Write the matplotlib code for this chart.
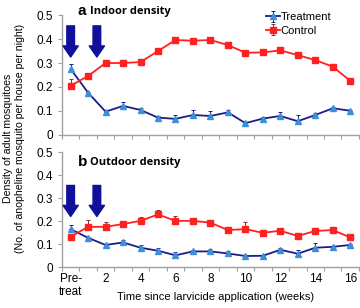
import matplotlib
matplotlib.use('Agg')
import matplotlib.pyplot as plt
import numpy as np
from matplotlib.ticker import FuncFormatter

plt.rcParams['font.family'] = ['Liberation Sans', 'DejaVu Sans']

# weeks: 0 = pre-treatment
weeks = np.arange(0, 17)
tick_weeks = [0, 2, 4, 6, 8, 10, 12, 14, 16]
tick_labels = ['Pre-\ntreat', '2', '4', '6', '8', '10', '12', '14', '16']

# indoor density
in_treat = [0.275, 0.176, 0.097, 0.121, 0.104, 0.072, 0.067, 0.083, 0.079,
            0.094, 0.049, 0.068, 0.079, 0.057, 0.083, 0.111, 0.101]
in_treat_err = [0.02, 0.005, 0.005, 0.015, 0.01, 0.005, 0.015, 0.02, 0.02,
                0.01, 0.005, 0.005, 0.015, 0.025, 0.01, 0.005, 0.005]
in_ctrl = [0.205, 0.246, 0.300, 0.300, 0.304, 0.350, 0.396, 0.393, 0.396,
           0.375, 0.343, 0.344, 0.353, 0.333, 0.312, 0.285, 0.226]
in_ctrl_err = [0.03, 0.005, 0.005, 0.005, 0.005, 0.01, 0.005, 0.005, 0.01,
               0.005, 0.005, 0.005, 0.01, 0.005, 0.005, 0.01, 0.005]

# outdoor density
out_treat = [0.165, 0.127, 0.096, 0.107, 0.084, 0.071, 0.051, 0.068, 0.068,
             0.059, 0.048, 0.049, 0.075, 0.058, 0.084, 0.088, 0.096]
out_treat_err = [0.02, 0.005, 0.005, 0.01, 0.01, 0.01, 0.015, 0.005, 0.01,
                 0.01, 0.005, 0.005, 0.01, 0.015, 0.02, 0.005, 0.005]
out_ctrl = [0.132, 0.175, 0.175, 0.187, 0.201, 0.229, 0.201, 0.201, 0.193,
            0.161, 0.165, 0.149, 0.158, 0.135, 0.157, 0.161, 0.129]
out_ctrl_err = [0.005, 0.03, 0.02, 0.01, 0.015, 0.02, 0.02, 0.005, 0.005,
                0.005, 0.03, 0.005, 0.005, 0.01, 0.015, 0.01, 0.015]

# larvicide application arrows (x, top, tip)
arrow_x = [0.0, 1.5]
in_arrow = (0.455, 0.325)
out_arrow = (0.355, 0.22)

navy = '#1c1c8a'
tri_face = '#3d8fd8'
red = '#ff2020'
navy_arrow = '#10109a'
grey = '#a0a0a0'

fig = plt.figure(figsize=(3.6, 3.08), dpi=100)
ax1 = fig.add_axes([0.172, 0.562, 0.825, 0.389])
ax2 = fig.add_axes([0.172, 0.133, 0.825, 0.373])


def draw(ax, treat, treat_err, ctrl, ctrl_err, arrow, letter, title, legend):
    z = np.zeros(len(weeks))
    ax.errorbar(weeks, treat, yerr=[z, treat_err], color=navy, lw=1.3,
                marker='^', ms=4.5, mfc=tri_face, mec=tri_face,
                elinewidth=0.7, capsize=1.5, capthick=0.7, label='Treatment')
    ax.errorbar(weeks, ctrl, yerr=[z, ctrl_err], color=red, lw=1.3,
                marker='s', ms=4.5, mfc=red, mec=red,
                elinewidth=0.7, ecolor='#803030', capsize=1.5, capthick=0.7,
                label='Control')
    for x in arrow_x:
        ax.annotate('', xy=(x, arrow[1]), xytext=(x, arrow[0]),
                    arrowprops=dict(width=5.5, headwidth=11, headlength=8,
                                    color=navy_arrow, shrink=0))
    ty = 0.515 if letter == 'a' else 0.455
    ax.text(0.4, ty, letter, fontsize=11, fontweight='bold', va='center', ha='left')
    ax.text(1.1, ty, title, fontsize=8, fontweight='bold', va='center', ha='left',
            family=['Open Sans', 'DejaVu Sans'])
    ax.set_xlim(-0.5, 16.5)
    ax.set_ylim(0, 0.5)
    ax.set_yticks([0, 0.1, 0.2, 0.3, 0.4, 0.5])
    ax.yaxis.set_major_formatter(FuncFormatter(lambda v, p: '0' if v == 0 else '%.1f' % v))
    ax.set_xticks(np.arange(-0.5, 17, 1))
    ax.set_xticklabels([])
    ax.set_xticks(tick_weeks, minor=True)
    ax.tick_params(axis='x', which='major', length=3, color=grey)
    ax.tick_params(axis='x', which='minor', length=0, labelsize=8.5, pad=4)
    ax.tick_params(axis='y', length=3, color=grey, labelsize=8.5)
    for s in ['top', 'right']:
        ax.spines[s].set_visible(False)
    for s in ['left', 'bottom']:
        ax.spines[s].set_color(grey)
        ax.spines[s].set_linewidth(1.0)
    ax.patch.set_visible(False)
    if legend:
        ax.legend(loc='upper right', bbox_to_anchor=(0.93, 1.08), frameon=False,
                  fontsize=8, handlelength=1.2, handletextpad=0.1,
                  labelspacing=0.3, borderpad=0.1)


draw(ax1, in_treat, in_treat_err, in_ctrl, in_ctrl_err, in_arrow,
     'a', 'Indoor density', True)
draw(ax2, out_treat, out_treat_err, out_ctrl, out_ctrl_err, out_arrow,
     'b', 'Outdoor density', False)

ax1.set_xticklabels([], minor=True)
ax2.set_xticklabels(tick_labels, minor=True)

fig.text(0.04, 0.55, 'Density of adult mosquitoes\n(No. of anopheline mosquito per house per night)',
         rotation=90, ha='center', va='center', fontsize=7.6, linespacing=1.25)
fig.text(0.6, 0.035, 'Time since larvicide application (weeks)',
         ha='center', va='center', fontsize=8)

fig.savefig('out.png', dpi=100)
